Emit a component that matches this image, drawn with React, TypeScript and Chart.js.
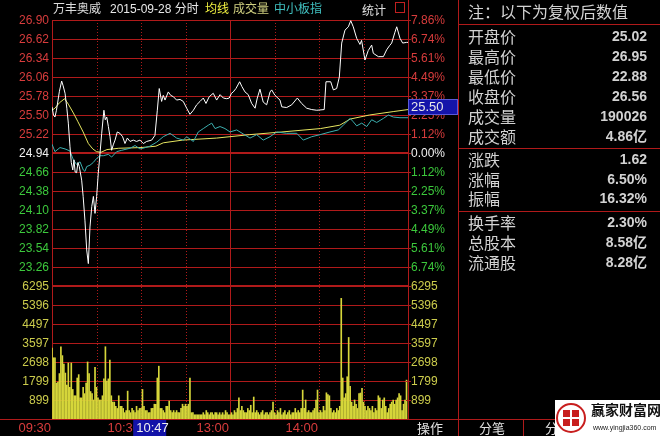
import React, { useEffect, useRef } from 'react';
import { Chart, registerables } from 'chart.js';

Chart.register(...registerables);

// ---------- data ----------
const prevClose = 24.94;
const priceTicks = [22.98, 23.26, 23.54, 23.82, 24.10, 24.38, 24.66, 24.94, 25.22, 25.50, 25.78, 26.06, 26.34, 26.62, 26.90];
const volumeTicks = [0, 899, 1799, 2698, 3597, 4497, 5396, 6295];
const timeGridMinutes = [0, 30, 60, 90, 120, 150, 180, 210, 240];
const solidGridMinutes = [0, 120, 240];
const timeLabelMinutes = [0, 60, 120, 180];
const timeLabelTexts = ['09:30', '10:30', '13:00', '14:00'];

const priceMinutes = [
  0, 1, 2, 3, 5, 6.5, 7.5, 8.8, 10, 11,
  12.1, 13, 14, 14.8, 15.6, 16.6, 17.5, 18.4, 20, 21,
  22.2, 23.4, 24.5, 25.6, 26.8, 27.9, 29, 30.1, 31.2, 32.4,
  33.5, 35, 35.9, 36.9, 38, 39.1, 40.2, 41.3, 42.5, 44,
  45.8, 47.6, 49.2, 50.8, 52.6, 54.8, 57, 59.3, 61.6, 63.8,
  67.2, 69.4, 71, 72.3, 73.9, 75, 76.2, 78.4, 80, 81.8,
  84, 86.3, 88.5, 90.8, 93, 95.3, 97.5, 99.8, 102, 103.8,
  106, 108.7, 111, 113.3, 115.5, 117.8, 119.5, 121, 122.2, 124,
  126.5, 128, 130.1, 132.3, 134.6, 136.9, 138.4, 140.2, 142.4, 144.7,
  147, 148.1, 150.3, 153.7, 154.9, 158.2, 161.6, 165.4, 168.3, 171.7,
  175.1, 178.5, 183.5, 184.7, 187.9, 189.7, 191.9, 193.7, 195.3, 197.5,
  199.8, 201.4, 203.1, 205.4, 207.6, 208.7, 211, 213.2, 215.5, 216.6,
  220, 223.4, 225.6, 227.5, 229, 231.2, 232.4, 234.6, 236.4, 239,
  240,
];
const priceValues = [
  25.62, 25.50, 25.47, 25.57, 25.85, 26.00, 25.93, 25.82, 25.60, 25.38,
  25.04, 24.80, 24.69, 24.84, 24.66, 24.65, 24.80, 24.74, 24.54, 24.30,
  23.95, 23.51, 23.31, 23.85, 24.15, 24.30, 24.05, 24.30, 24.64, 24.94,
  25.23, 25.57, 25.43, 25.47, 25.33, 25.18, 24.98, 25.06, 25.13, 25.25,
  25.23, 25.18, 25.08, 25.16, 25.11, 25.13, 25.11, 25.13, 25.08, 25.11,
  25.13, 25.20, 25.57, 25.89, 25.70, 25.79, 25.72, 25.84, 25.79, 25.77,
  25.72, 25.73, 25.70, 25.60, 25.51, 25.57, 25.65, 25.70, 25.75, 25.67,
  25.77, 25.82, 25.72, 25.80, 25.75, 25.74, 25.75, 25.82, 25.84, 25.89,
  25.99, 25.92, 25.84, 25.80, 25.67, 25.60, 25.75, 25.88, 25.69, 25.65,
  25.84, 25.87, 25.79, 25.72, 25.62, 25.61, 25.65, 25.75, 25.67, 25.60,
  25.58, 25.57, 25.58, 25.99, 25.99, 25.87, 25.89, 26.06, 26.56, 26.75,
  26.80, 26.89, 26.80, 26.63, 26.54, 26.60, 26.31, 26.45, 26.53, 26.41,
  26.36, 26.36, 26.46, 26.52, 26.56, 26.72, 26.80, 26.63, 26.56, 26.57,
  26.57,
];

const avgMinutes = [0, 2, 5, 8.5, 11, 14.4, 17.5, 21, 24.5, 27.5, 30, 33, 37, 45, 60, 70, 75, 88, 111, 133, 155, 181, 194, 201, 214, 230, 240];
const avgValues = [25.57, 25.60, 25.68, 25.74, 25.66, 25.53, 25.40, 25.25, 25.08, 25.00, 24.96, 24.95, 24.99, 25.01, 25.02, 25.04, 25.09, 25.13, 25.16, 25.21, 25.25, 25.30, 25.35, 25.44, 25.50, 25.55, 25.58];

const indexMinutes = [
  0, 2, 5.4, 8.8, 12.1, 14.4, 16.6, 18.9, 21.1, 22.2,
  23.4, 25.6, 27.8, 30.1, 32.4, 34.6, 38, 40.2, 43.6, 47,
  52.6, 56, 59.3, 61.3, 66, 70.6, 75, 79.6, 84, 88.5,
  90.8, 95.3, 98.6, 102, 105.4, 107.7, 109.9, 113.3, 116.6, 120,
  124.5, 129, 133.5, 138, 142.4, 147, 151.5, 158.2, 165, 169.4,
  175.1, 180.7, 187.4, 193, 196.4, 201, 203.1, 205.4, 208.8, 212.2,
  215.5, 218.9, 223.4, 226.8, 230.1, 234.6, 240,
];
const indexValues = [
  25.07, 24.96, 25.02, 25.00, 24.97, 24.84, 24.77, 24.81, 24.69, 24.67,
  24.74, 24.76, 24.80, 24.86, 24.90, 24.90, 24.92, 24.88, 24.96, 24.98,
  25.01, 25.05, 25.00, 25.01, 25.04, 25.10, 25.18, 25.23, 25.16, 25.13,
  25.18, 25.11, 25.25, 25.30, 25.35, 25.38, 25.30, 25.33, 25.30, 25.25,
  25.28, 25.22, 25.16, 25.21, 25.13, 25.18, 25.25, 25.23, 25.23, 25.13,
  25.18, 25.21, 25.25, 25.28, 25.35, 25.45, 25.40, 25.34, 25.38, 25.33,
  25.43, 25.39, 25.45, 25.50, 25.47, 25.46, 25.46,
];

const volume = [
  3360, 2900, 2900, 1700, 1750, 2150, 3420, 3000, 2600, 2175,
  1600, 2650, 1500, 2650, 1400, 1100, 1100, 1940, 2100, 1000,
  1000, 1500, 1200, 1700, 2700, 2150, 1300, 1200, 900, 2450,
  1500, 1000, 900, 900, 1100, 1900, 3420, 1800, 1900, 2790,
  1100, 800, 800, 600, 500, 1100, 600, 600, 500, 300,
  400, 1320, 400, 300, 500, 400, 300, 600, 400, 500,
  500, 1400, 600, 400, 400, 300, 300, 500, 500, 700,
  700, 1940, 2500, 500, 500, 400, 300, 600, 600, 850,
  400, 300, 400, 300, 400, 300, 300, 500, 700, 600,
  700, 600, 700, 1940, 300, 300, 200, 200, 200, 200,
  200, 200, 300, 200, 400, 300, 200, 300, 300, 200,
  300, 300, 200, 300, 200, 300, 200, 400, 300, 200,
  200, 300, 200, 400, 300, 500, 1000, 400, 600, 400,
  300, 300, 500, 400, 650, 300, 1040, 300, 400, 300,
  200, 300, 400, 200, 300, 300, 200, 300, 400, 800,
  300, 200, 400, 300, 500, 200, 300, 400, 200, 300,
  400, 200, 300, 300, 500, 300, 400, 300, 500, 1370,
  500, 900, 300, 400, 300, 300, 400, 500, 900, 1370,
  300, 400, 300, 600, 400, 1240, 1150, 1100, 500, 300,
  400, 300, 500, 400, 600, 5710, 1940, 1000, 1200, 2000,
  3860, 1550, 800, 600, 900, 700, 500, 1200, 1230, 1450,
  800, 600, 400, 600, 500, 400, 600, 300, 500, 400,
  1100, 1000, 500, 900, 1000, 600, 300, 500, 700, 800,
  900, 700, 900, 1000, 1200, 1100, 400, 700, 900, 1840,
];

const cursorPrice = '25.50';
const cursorPriceValue = 25.50;
const cursorTime = '10:47';
const cursorMinute = 77;

const titleParts = [
  { text: '万丰奥威', color: '#dcdcdc' },
  { text: '2015-09-28 分时', color: '#e8e8e8' },
  { text: '均线', color: '#f0f040' },
  { text: '成交量', color: '#d0d080' },
  { text: '中小板指', color: '#40c0c0' },
];

const statHeader = '注：以下为复权后数值';
const statLabels1 = ['开盘价', '最高价', '最低价', '收盘价', '成交量', '成交额'];
const statValues1 = ['25.02', '26.95', '22.88', '26.56', '190026', '4.86亿'];
const statLabels2 = ['涨跌', '涨幅', '振幅'];
const statValues2 = ['1.62', '6.50%', '16.32%'];
const statLabels3 = ['换手率', '总股本', '流通股'];
const statValues3 = ['2.30%', '8.58亿', '8.28亿'];

// ---------- styles ----------
const GRID = '#b01a1a';
const UP = '#d83c3c';
const DOWN = '#3cc83c';
const FLAT = '#f0f0f0';
const VOLC = '#cccc4c';
const LAT = "'Liberation Sans', 'Noto Sans CJK SC', sans-serif";
const CJK = "'Noto Sans CJK SC', sans-serif";

function colorFor(v: number) {
  if (Math.abs(v - prevClose) < 1e-6) return FLAT;
  return v > prevClose ? UP : DOWN;
}

function hline(ctx: CanvasRenderingContext2D, x1: number, x2: number, y: number, w = 1) {
  const yy = w % 2 ? Math.round(y) + 0.5 : Math.round(y);
  ctx.lineWidth = w;
  ctx.beginPath();
  ctx.moveTo(x1, yy);
  ctx.lineTo(x2, yy);
  ctx.stroke();
}
function vline(ctx: CanvasRenderingContext2D, x: number, y1: number, y2: number, w = 1) {
  const xx = w % 2 ? Math.round(x) + 0.5 : Math.round(x);
  ctx.lineWidth = w;
  ctx.beginPath();
  ctx.moveTo(xx, y1);
  ctx.lineTo(xx, y2);
  ctx.stroke();
}
function text(ctx: CanvasRenderingContext2D, s: string, x: number, y: number, color: string, font: string, align: CanvasTextAlign = 'left') {
  ctx.font = font;
  ctx.fillStyle = color;
  ctx.textAlign = align;
  ctx.textBaseline = 'middle';
  ctx.fillText(s, x, y);
}

const decor = {
  id: 'decor',
  beforeDraw(chart: any) {
    const ctx = chart.ctx as CanvasRenderingContext2D;
    ctx.save();
    ctx.fillStyle = '#000';
    ctx.fillRect(0, 0, chart.width, chart.height);
    ctx.restore();
  },
  beforeDatasetsDraw(chart: any) {
    const ctx = chart.ctx as CanvasRenderingContext2D;
    const a = chart.chartArea;
    const xs = chart.scales.x;
    const yp = chart.scales.price;
    const yv = chart.scales.vol;
    ctx.save();
    ctx.strokeStyle = GRID;
    priceTicks.forEach((v, i) => {
      const thick = Math.abs(v - prevClose) < 1e-6 || i === 0;
      hline(ctx, a.left, a.right, yp.getPixelForValue(v), thick ? 2 : 1);
    });
    volumeTicks.forEach((v, i) => {
      if (i === volumeTicks.length - 1) return;
      if (i === 0) hline(ctx, 0, chart.width, yv.getPixelForValue(v), 1);
      else hline(ctx, a.left, a.right, yv.getPixelForValue(v), 1);
    });
    timeGridMinutes.forEach((m) => {
      const px = xs.getPixelForValue(m);
      if (solidGridMinutes.includes(m)) {
        ctx.setLineDash([]);
      } else {
        ctx.setLineDash([1, 2]);
      }
      vline(ctx, px, a.top, a.bottom, 1);
    });
    ctx.setLineDash([]);
    ctx.restore();
  },
  afterDraw(chart: any) {
    const ctx = chart.ctx as CanvasRenderingContext2D;
    const a = chart.chartArea;
    const xs = chart.scales.x;
    const yp = chart.scales.price;
    const yv = chart.scales.vol;
    const W = chart.width;
    const H = chart.height;
    ctx.save();
    const axFont = `12px ${LAT}`;

    // ticks on right edge
    ctx.strokeStyle = GRID;
    priceTicks.forEach((v) => hline(ctx, a.right - 2, a.right + 3, yp.getPixelForValue(v), 1));
    volumeTicks.forEach((v) => hline(ctx, a.right - 2, a.right + 3, yv.getPixelForValue(v), 1));

    // left / right price labels
    priceTicks.forEach((v, i) => {
      if (i === 0) return;
      const py = yp.getPixelForValue(v);
      const c = colorFor(v);
      text(ctx, v.toFixed(2), a.left - 3, py + 1, c, axFont, 'right');
      const pct = (Math.abs(v - prevClose) / prevClose) * 100;
      text(ctx, pct.toFixed(2) + '%', a.right + 3, py + 1, c, axFont, 'left');
    });
    // volume labels
    volumeTicks.forEach((v, i) => {
      if (i === 0) return;
      const py = yv.getPixelForValue(v);
      text(ctx, String(v), a.left - 3, py + 1, VOLC, axFont, 'right');
      text(ctx, String(v), a.right + 3, py + 1, VOLC, axFont, 'left');
    });

    // time labels
    timeLabelMinutes.forEach((m, i) => {
      text(ctx, timeLabelTexts[i], xs.getPixelForValue(m) - 1, a.bottom + 9, UP, `13px ${LAT}`, 'right');
    });

    // cursor time box
    {
      const px = xs.getPixelForValue(cursorMinute);
      ctx.fillStyle = '#1212a8';
      ctx.fillRect(px - 33, a.bottom + 1, 33, H - a.bottom - 1);
      text(ctx, cursorTime, px - 30, a.bottom + 9, '#f0f0f0', `13px ${LAT}`, 'left');
    }
    // cursor price box
    {
      const py = yp.getPixelForValue(cursorPriceValue);
      ctx.fillStyle = '#1414aa';
      ctx.fillRect(a.right, py - 16, 50, 16);
      ctx.strokeStyle = '#5a5ad8';
      ctx.lineWidth = 1;
      ctx.strokeRect(a.right + 0.5, py - 15.5, 49, 15);
      text(ctx, cursorPrice, a.right + 3, py - 7.5, '#e8e8e8', `13px ${LAT}`, 'left');
    }

    // title
    const tf = `12px ${LAT}`;
    const tx = [a.left + 1, 110, 205, 233, 274];
    titleParts.forEach((p, i) => text(ctx, p.text, tx[i], 10, p.color, tf, 'left'));
    text(ctx, '统计', 362, 10, '#e0e0e0', `12px ${CJK}`, 'left');
    ctx.strokeStyle = '#c02020';
    ctx.lineWidth = 1;
    ctx.strokeRect(395.5, 2.5, 9, 10);

    // right panel
    const px0 = 458;
    ctx.strokeStyle = GRID;
    vline(ctx, px0, 0, H, 1);
    hline(ctx, px0, W, 24, 1);
    hline(ctx, px0, W, 148, 1);
    hline(ctx, px0, W, 211, 1);
    hline(ctx, a.right, W, a.bottom, 1);
    vline(ctx, 523, a.bottom, H, 1);
    vline(ctx, a.right, 0, a.top, 1);

    const lf = `16px ${CJK}`;
    const vf = `bold 14px ${LAT}`;
    const lc = '#d2d2d2';
    text(ctx, statHeader, 468, 12, lc, lf, 'left');
    statLabels1.forEach((l, i) => {
      const y = 37 + i * 20;
      text(ctx, l, 468, y, lc, lf, 'left');
      text(ctx, statValues1[i], 647, y, lc, vf, 'right');
    });
    statLabels2.forEach((l, i) => {
      const y = 160 + i * 19.7;
      text(ctx, l, 468, y, lc, lf, 'left');
      text(ctx, statValues2[i], 647, y, lc, vf, 'right');
    });
    statLabels3.forEach((l, i) => {
      const y = 223 + i * 20;
      text(ctx, l, 468, y, lc, lf, 'left');
      text(ctx, statValues3[i], 647, y, lc, vf, 'right');
    });

    // bottom tabs
    text(ctx, '操作', 417, 428, '#e0e0e0', `13px ${CJK}`, 'left');
    text(ctx, '分笔', 479, 428, '#e0e0e0', `13px ${CJK}`, 'left');
    text(ctx, '分', 545, 428, '#e0e0e0', `13px ${CJK}`, 'left');

    // watermark
    ctx.fillStyle = '#ffffff';
    ctx.fillRect(555, 400, W - 555, H - 400);
    ctx.strokeStyle = '#c81e1e';
    ctx.lineWidth = 2;
    ctx.beginPath();
    ctx.arc(571, 418, 14, 0, Math.PI * 2);
    ctx.stroke();
    ctx.fillStyle = '#c81e1e';
    ctx.fillRect(563, 410, 7, 7);
    ctx.fillRect(572, 410, 7, 7);
    ctx.fillRect(563, 419, 7, 7);
    ctx.fillRect(572, 419, 7, 7);
    text(ctx, '赢家财富网', 591, 410, '#111111', `bold 14px ${CJK}`, 'left');
    text(ctx, 'www.yingjia360.com', 593, 428, '#222222', `7px ${LAT}`, 'left');

    ctx.restore();
  },
};

export default function App() {
  const ref = useRef<HTMLCanvasElement>(null);
  useEffect(() => {
    const canvas = ref.current;
    if (!canvas) return;
    const priceMin = priceTicks[0] - (priceTicks[priceTicks.length - 1] - priceTicks[0]) / 2;
    const volMax = volumeTicks[volumeTicks.length - 1] * 3;
    const chart = new Chart(canvas, {
      type: 'line',
      data: {
        datasets: [
          {
            type: 'line',
            label: 'price',
            data: priceMinutes.map((m, i) => ({ x: m, y: priceValues[i] })),
            borderColor: '#ffffff',
            borderWidth: 1,
            pointRadius: 0,
            tension: 0,
            xAxisID: 'x',
            yAxisID: 'price',
            order: 1,
          },
          {
            type: 'line',
            label: 'avg',
            data: avgMinutes.map((m, i) => ({ x: m, y: avgValues[i] })),
            borderColor: '#e6e660',
            borderWidth: 1,
            pointRadius: 0,
            tension: 0,
            xAxisID: 'x',
            yAxisID: 'price',
            order: 3,
          },
          {
            type: 'line',
            label: 'index',
            data: indexMinutes.map((m, i) => ({ x: m, y: indexValues[i] })),
            borderColor: '#3cb0b0',
            borderWidth: 1,
            pointRadius: 0,
            tension: 0,
            xAxisID: 'x',
            yAxisID: 'price',
            order: 2,
          },
          {
            type: 'bar',
            label: 'vol',
            data: volume.map((v, i) => ({ x: i, y: v })),
            backgroundColor: '#d6d63a',
            borderWidth: 0,
            barThickness: 1,
            xAxisID: 'x',
            yAxisID: 'vol',
            order: 4,
          } as any,
        ],
      },
      options: {
        animation: false,
        responsive: false,
        maintainAspectRatio: false,
        devicePixelRatio: 1,
        events: [],
        layout: { padding: { left: 52, right: 252, top: 20, bottom: 17 } },
        plugins: { legend: { display: false }, tooltip: { enabled: false } },
        scales: {
          x: { type: 'linear', min: 0, max: 240, display: false, offset: false },
          price: { type: 'linear', position: 'left', min: priceMin, max: priceTicks[priceTicks.length - 1], display: false },
          vol: { type: 'linear', position: 'right', min: 0, max: volMax, display: false },
        },
      },
      plugins: [decor],
    } as any);
    return () => chart.destroy();
  }, []);
  return (
    <div style={{ position: 'absolute', left: 0, top: 0, width: 660, height: 436, background: '#000', overflow: 'hidden' }}>
      <canvas ref={ref} width={660} height={436} style={{ display: 'block', width: 660, height: 436 }} />
    </div>
  );
}
